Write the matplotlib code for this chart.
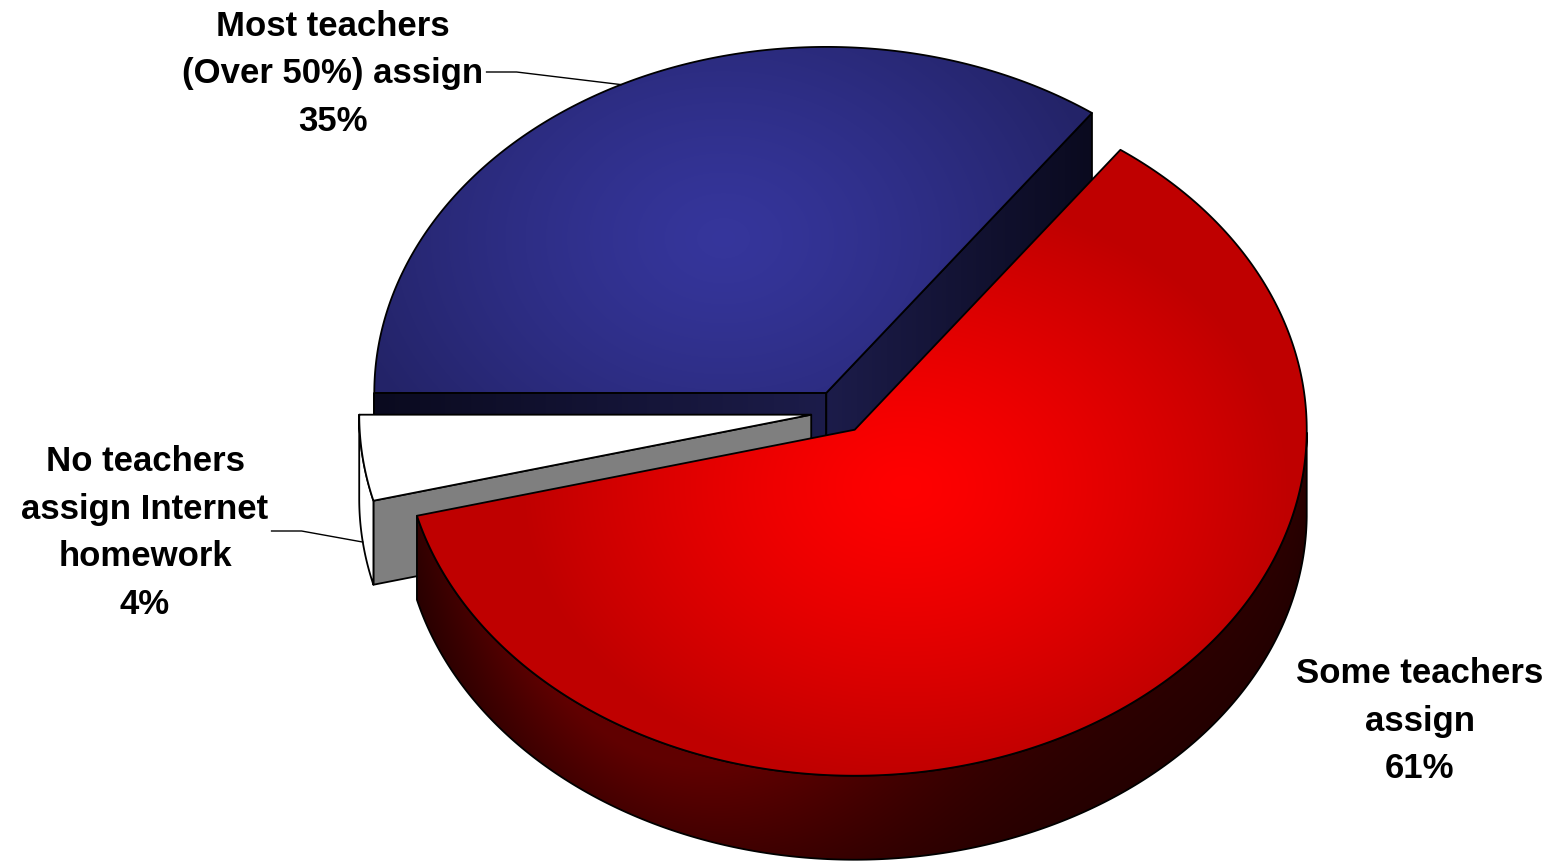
import numpy as np
import matplotlib.pyplot as plt
from matplotlib.patches import Polygon

plt.rcParams["font.family"] = ["Liberation Sans", "DejaVu Sans"]

# Share of schools by how many teachers assign Internet homework
categories = ["Most teachers\n(Over 50%) assign",
              "Some teachers\nassign",
              "No teachers\nassign Internet\nhomework"]
shares = [35, 61, 4]

# label centres (figure pixels) and where each leader line meets its slice
label_pos = [(333, 74), (1420, 721), (145, 533)]
leader_to = ["top", None, "bottom"]

# top face: light centre -> dark rim
top_light = [(0.21, 0.21, 0.61), (1.00, 0.00, 0.00), (1.0, 1.0, 1.0)]
top_dark = [(0.14, 0.14, 0.41), (0.75, 0.00, 0.00), (1.0, 1.0, 1.0)]
# curved outer wall
wall_light = [(0.12, 0.12, 0.30), (0.38, 0.00, 0.00), (1.0, 1.0, 1.0)]
wall_dark = [(0.05, 0.05, 0.12), (0.14, 0.00, 0.00), (1.0, 1.0, 1.0)]
# flat cut faces along the slice edges
cut_light = [(0.11, 0.11, 0.29), (0.30, 0.00, 0.00), (0.50, 0.50, 0.50)]
cut_dark = [(0.04, 0.04, 0.12), (0.12, 0.00, 0.00), (0.50, 0.50, 0.50)]

W, H = 1560, 861
CX, CY = 839, 412      # pie centre
RX, RY = 452, 346      # ellipse radii of the tilted disc
DEPTH = 84             # thickness of the disc
EXPLODE = 28           # how far each slice is pulled out

fig = plt.figure(figsize=(W / 100, H / 100), dpi=100)
ax = fig.add_axes([0, 0, 1, 1])
ax.axis("off")

_z = [10]


def next_z():
    _z[0] += 1
    return _z[0]


def mix(c1, c2, t):
    t = np.clip(t, 0, 1)[..., None]
    return np.asarray(c1) * (1 - t) + np.asarray(c2) * t


def rim(cx, cy, t, dz=0.0):
    return cx + RX * np.cos(t), cy - RY * np.sin(t) + dz


def shade(verts, colfunc):
    verts = np.asarray(verts)
    (x0, y0), (x1, y1) = verts.min(0), verts.max(0)
    X, Y = np.meshgrid(np.linspace(x0, x1, int(x1 - x0) + 2),
                       np.linspace(y0, y1, int(y1 - y0) + 2))
    img = np.clip(colfunc(X, Y), 0, 1)
    im = ax.imshow(img, extent=(x0, x1, y1, y0), origin="upper", aspect="auto",
                   interpolation="bilinear", zorder=next_z())
    im.set_clip_path(Polygon(verts, closed=True, transform=ax.transData))
    ax.add_patch(Polygon(verts, closed=True, fill=False, ec="black", lw=1.3,
                         joinstyle="round", zorder=next_z()))


# slice angles, clockwise from 9 o'clock
bounds = []
a = np.pi
for s in shares:
    b = a - s / 100 * 2 * np.pi
    bounds.append((b, a))
    a = b

mids = [(a + b) / 2 for b, a in bounds]
centres = [(CX + EXPLODE * np.cos(m), CY - EXPLODE * RY / RX * np.sin(m)) for m in mids]

# paint back slices first
for i in sorted(range(len(shares)), key=lambda k: -np.sin(mids[k])):
    b, a = bounds[i]
    m = mids[i]
    cx, cy = centres[i]

    # cut faces that turn towards the viewer
    for t, show in ((b, np.cos(b) > 0), (a, np.cos(a) < 0)):
        if not show:
            continue
        ex, ey = rim(cx, cy, t)
        verts = [(cx, cy), (ex, ey), (ex, ey + DEPTH), (cx, cy + DEPTH)]

        def cut_col(X, Y, cx=cx, ex=ex, i=i):
            s = (X - cx) / (ex - cx) if abs(ex - cx) > 1 else np.zeros_like(X)
            return mix(cut_light[i], cut_dark[i], s)
        shade(verts, cut_col)

    # curved outer wall on the front half
    ts = np.linspace(b, a, 400)
    vis = np.sin(ts) < 1e-9
    if vis.any():
        tv = ts[vis]
        xt, yt = rim(cx, cy, tv)
        xb, yb = rim(cx, cy, tv[::-1], DEPTH)
        verts = np.column_stack([np.r_[xt, xb], np.r_[yt, yb]])

        def wall_col(X, Y, cx=cx, cy=cy, i=i):
            c = np.clip((X - cx) / RX, -1, 1)
            t = -np.arccos(c)
            f = np.clip((Y - (cy + RY * np.sqrt(1 - c ** 2))) / DEPTH, 0, 1)
            glow = np.exp(-((t + np.radians(118)) / 0.6) ** 2)
            return mix(wall_dark[i], wall_light[i], glow * (1 - 0.45 * f) + 0.12 * (1 - f))
        shade(verts, wall_col)

    # top face
    xt, yt = rim(cx, cy, np.linspace(b, a, 400))
    verts = np.column_stack([np.r_[cx, xt], np.r_[cy, yt]])
    reach = 0.5 if np.sin(m) > 0 else 0.2
    gx, gy = cx + reach * RX * np.cos(m), cy - reach * RY * np.sin(m)

    def top_col(X, Y, gx=gx, gy=gy, i=i):
        d = np.hypot((X - gx) / RX, (Y - gy) / RY)
        return mix(top_light[i], top_dark[i], (d / 0.85) ** 1.3)
    shade(verts, top_col)

ax.set_xlim(0, W)
ax.set_ylim(H, 0)

# labels and leader lines
fig.canvas.draw()
renderer = fig.canvas.get_renderer()
for i in range(len(shares)):
    lx, ly = label_pos[i]
    txt = ax.text(lx, ly, f"{categories[i]}\n{shares[i]}%", ha="center", va="center",
                  fontsize=25, fontweight="bold", linespacing=1.57, zorder=100)
    if leader_to[i] is None:
        continue
    bb = txt.get_window_extent(renderer).transformed(ax.transData.inverted())
    cx, cy = centres[i]
    px, py = rim(cx, cy, mids[i], DEPTH if leader_to[i] == "bottom" else 0)
    y0 = (bb.y0 + bb.y1) / 2 - 2
    x0 = max(bb.x0, bb.x1) + 3
    ax.plot([x0, x0 + 30, px], [y0, y0, py], color="black", lw=1.0, zorder=99)

fig.savefig("out.png", dpi=100, facecolor="white")
